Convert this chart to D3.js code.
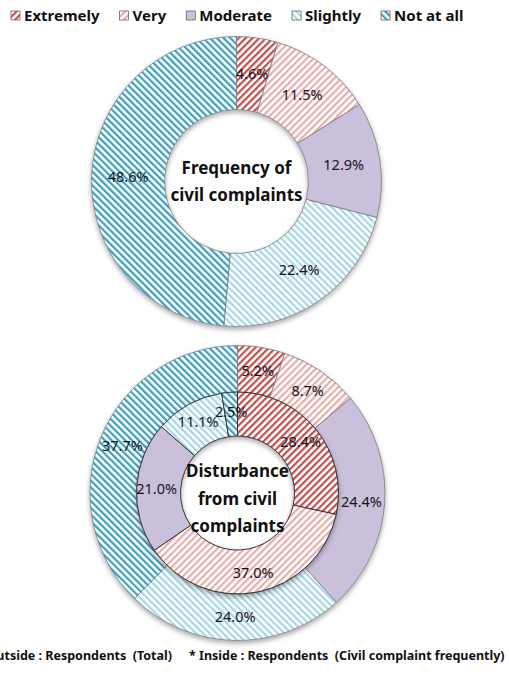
<!DOCTYPE html>
<html>
<head>
<meta charset="utf-8">
<script src="https://cdn.jsdelivr.net/npm/d3@7"></script>
<style>
  html, body { margin: 0; padding: 0; background: #fff; }
  svg { display: block; }
</style>
</head>
<body>
<script>
// ---- data ----
const categories = ["Extremely", "Very", "Moderate", "Slightly", "Not at all"];
const frequencyValues = [4.6, 11.5, 12.9, 22.4, 48.6];
const disturbanceOuterValues = [5.2, 8.7, 24.4, 24.0, 37.7];
const disturbanceInnerValues = [28.4, 37.0, 21.0, 11.1, 2.5];
const titleFrequency = ["Frequency of", "civil complaints"];
const titleDisturbance = ["Disturbance", "from civil", "complaints"];
const footnotes = ["* Outside : Respondents  (Total)", "* Inside : Respondents  (Civil complaint frequently)"];

const W = 509, H = 678;
const FONT = "'Noto Sans', 'DejaVu Sans', sans-serif";

const svg = d3.select("body").append("svg").attr("width", W).attr("height", H);
const defs = svg.append("defs");

// pattern styles per category
const styles = {
  "Extremely": { kind: "stripe", color: "#c0504d", rot: 45 },
  "Very": { kind: "stripe", color: "#e6aeac", rot: 45 },
  "Moderate": { kind: "solid", color: "#cbc0dc" },
  "Slightly": { kind: "stripe", color: "#a6d7e4", rot: -45 },
  "Not at all": { kind: "stripe", color: "#3aa0bf", rot: -45 }
};
const P = 4.8, LW = 2.2;
const fillOf = {};
categories.forEach((c, i) => {
  const s = styles[c];
  if (s.kind === "solid") { fillOf[c] = s.color; return; }
  const id = "pat" + i;
  const p = defs.append("pattern").attr("id", id)
    .attr("patternUnits", "userSpaceOnUse")
    .attr("width", P).attr("height", P)
    .attr("patternTransform", `rotate(${s.rot})`);
  p.append("rect").attr("width", P).attr("height", P).attr("fill", "#fff");
  p.append("rect").attr("x", 0).attr("y", 0).attr("width", LW).attr("height", P).attr("fill", s.color);
  fillOf[c] = `url(#${id})`;
});

// shadow filter
const f = defs.append("filter").attr("id", "shadow").attr("x", "-20%").attr("y", "-20%").attr("width", "140%").attr("height", "140%");
f.append("feDropShadow").attr("dx", 0).attr("dy", 2.5).attr("stdDeviation", 2.5)
  .attr("flood-color", "#000").attr("flood-opacity", 0.35);

const pie = d3.pie().sort(null).value(d => d.v).startAngle(0).endAngle(2 * Math.PI);
const toData = vals => vals.map((v, i) => ({ cat: categories[i], v }));

function ring(g, vals, rIn, rOut, strokeCol, strokeW) {
  const arc = d3.arc().innerRadius(rIn).outerRadius(rOut);
  const arcs = pie(toData(vals));
  const rg = g.append("g").attr("filter", "url(#shadow)");
  rg.selectAll("path").data(arcs).join("path")
    .attr("d", arc)
    .attr("fill", d => fillOf[d.data.cat])
    .attr("stroke", strokeCol)
    .attr("stroke-width", strokeW)
    .attr("stroke-linejoin", "round");
  return { arc, arcs };
}
function labels(g, arcs, arc) {
  g.selectAll(null).data(arcs).join("text")
    .attr("transform", d => `translate(${arc.centroid(d)})`)
    .attr("text-anchor", "middle")
    .attr("dy", "0.36em")
    .attr("font-family", FONT)
    .attr("font-size", 14.5)
    .attr("fill", "#141420")
    .text(d => d3.format(".1f")(d.data.v) + "%");
}
function title(g, lines, lh, y0) {
  g.selectAll(null).data(lines).join("text")
    .attr("x", 0).attr("y", (d, i) => y0 + i * lh)
    .attr("text-anchor", "middle")
    .attr("dy", "0.36em")
    .attr("font-family", FONT)
    .attr("font-weight", "bold")
    .attr("font-size", 17)
    .attr("fill", "#111")
    .text(d => d);
}

// ---- top donut ----
const g1 = svg.append("g").attr("transform", "translate(236.5,181.5)");
const r1 = ring(g1, frequencyValues, 72, 145, "#7a7a7a", 0.8);
labels(g1, r1.arcs, r1.arc);
title(g1, titleFrequency, 27, -14);

// ---- bottom donut ----
const g2 = svg.append("g").attr("transform", "translate(237.5,493)");
const r2o = ring(g2, disturbanceOuterValues, 101, 147.5, "#7a7a7a", 0.8);
const r2i = ring(g2, disturbanceInnerValues, 57, 101, "#333", 1);
labels(g2, r2o.arcs, r2o.arc);
labels(g2, r2i.arcs, d3.arc().innerRadius(61).outerRadius(101));
title(g2, titleDisturbance, 27.5, -22);

// ---- legend ----
const leg = svg.append("g").attr("transform", "translate(11,15.5)");
let lx = 0;
categories.forEach(c => {
  const it = leg.append("g").attr("transform", `translate(${lx},0)`);
  it.append("rect").attr("x", 0).attr("y", -4.5).attr("width", 9).attr("height", 9)
    .attr("fill", fillOf[c]).attr("stroke", "#666").attr("stroke-width", 0.8);
  const t = it.append("text").attr("x", 13).attr("dy", "0.36em")
    .attr("font-family", FONT).attr("font-weight", "bold").attr("font-size", 15)
    .attr("fill", "#111").text(c);
  lx += 13 + t.node().getComputedTextLength() + 20;
});

// ---- footnotes ----
svg.append("text").attr("x", 172).attr("y", 660).attr("text-anchor", "end")
  .attr("font-family", FONT).attr("font-weight", "bold").attr("font-size", 12.5)
  .attr("fill", "#111").attr("xml:space", "preserve").style("white-space", "pre").text(footnotes[0]);
svg.append("text").attr("x", 189).attr("y", 660)
  .attr("font-family", FONT).attr("font-weight", "bold").attr("font-size", 12.5)
  .attr("fill", "#111").attr("xml:space", "preserve").style("white-space", "pre").text(footnotes[1]);
</script>
</body>
</html>
